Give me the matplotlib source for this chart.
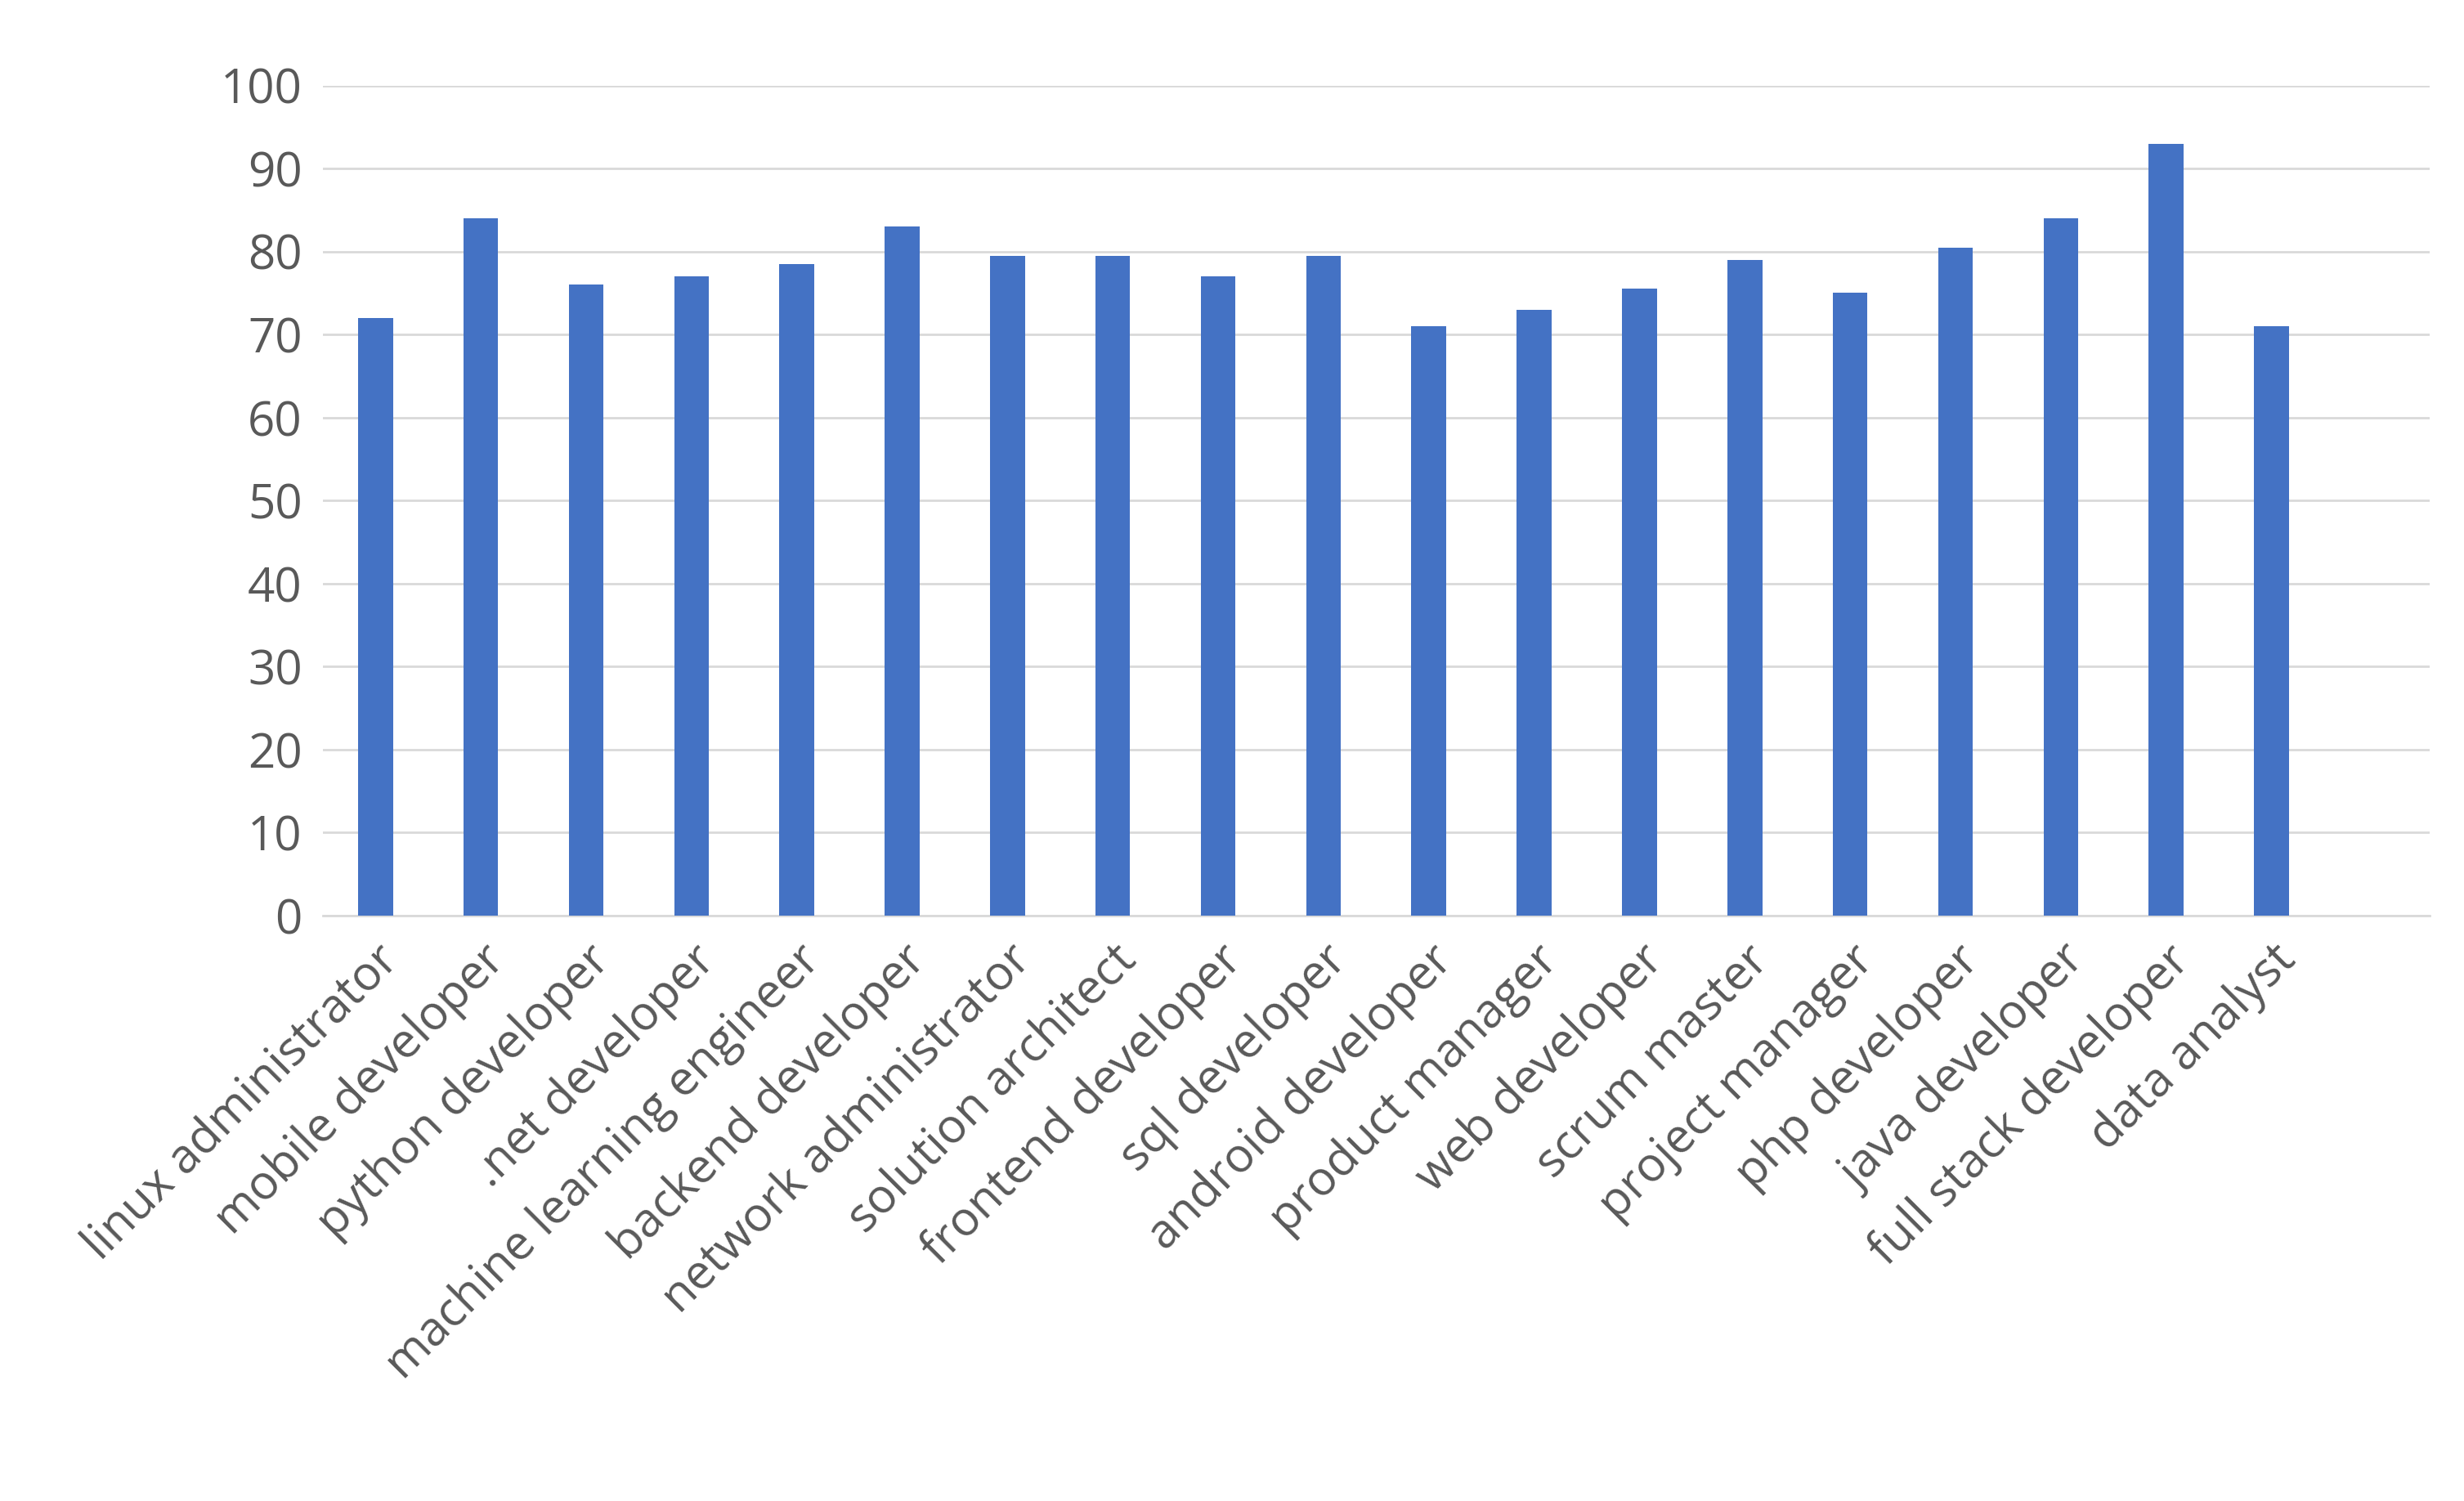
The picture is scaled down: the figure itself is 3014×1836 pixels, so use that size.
import matplotlib
matplotlib.use("Agg")
import matplotlib.pyplot as plt

categories = ["linux administrator","mobile developer","python developer",".net developer",
    "machine learning engineer","backend developer","network administrator","solution architect",
    "frontend developer","sql developer","android developer","product manager","web developer",
    "scrum master","project manager","php developer","java developer","full stack developer","data analyst"]
values = [72,84,76,77,78.5,83,79.5,79.5,77,79.5,71,73,75.5,79,75,80.5,84,93,71]
yticks = [0,10,20,30,40,50,60,70,80,90,100]

plt.rcParams['font.family'] = ['Open Sans', 'DejaVu Sans']
fig = plt.figure(figsize=(30.14, 18.36), dpi=100)
ax = fig.add_axes([0.131, 0.390, 0.855, 0.553])
x = list(range(len(categories)))
ax.bar(x, values, width=0.33, color="#4472C4", zorder=3)
ax.set_xlim(-0.5, 19.5)
ax.set_ylim(0, 100)
ax.set_yticks(yticks)
ax.set_yticklabels([str(t) for t in yticks], fontsize=42, color="#595959")
ax.set_xticks(x)
ax.set_xticklabels(categories, rotation=45, ha="right", rotation_mode="anchor", fontsize=42, color="#595959")
ax.tick_params(length=0, pad=18)
ax.grid(axis="y", color="#D9D9D9", linewidth=2, zorder=0)
for s in ["top","right","left"]:
    ax.spines[s].set_visible(False)
ax.spines["bottom"].set_color("#D9D9D9")
ax.spines["bottom"].set_linewidth(2)
fig.savefig("out.png", dpi=100, facecolor="white")
